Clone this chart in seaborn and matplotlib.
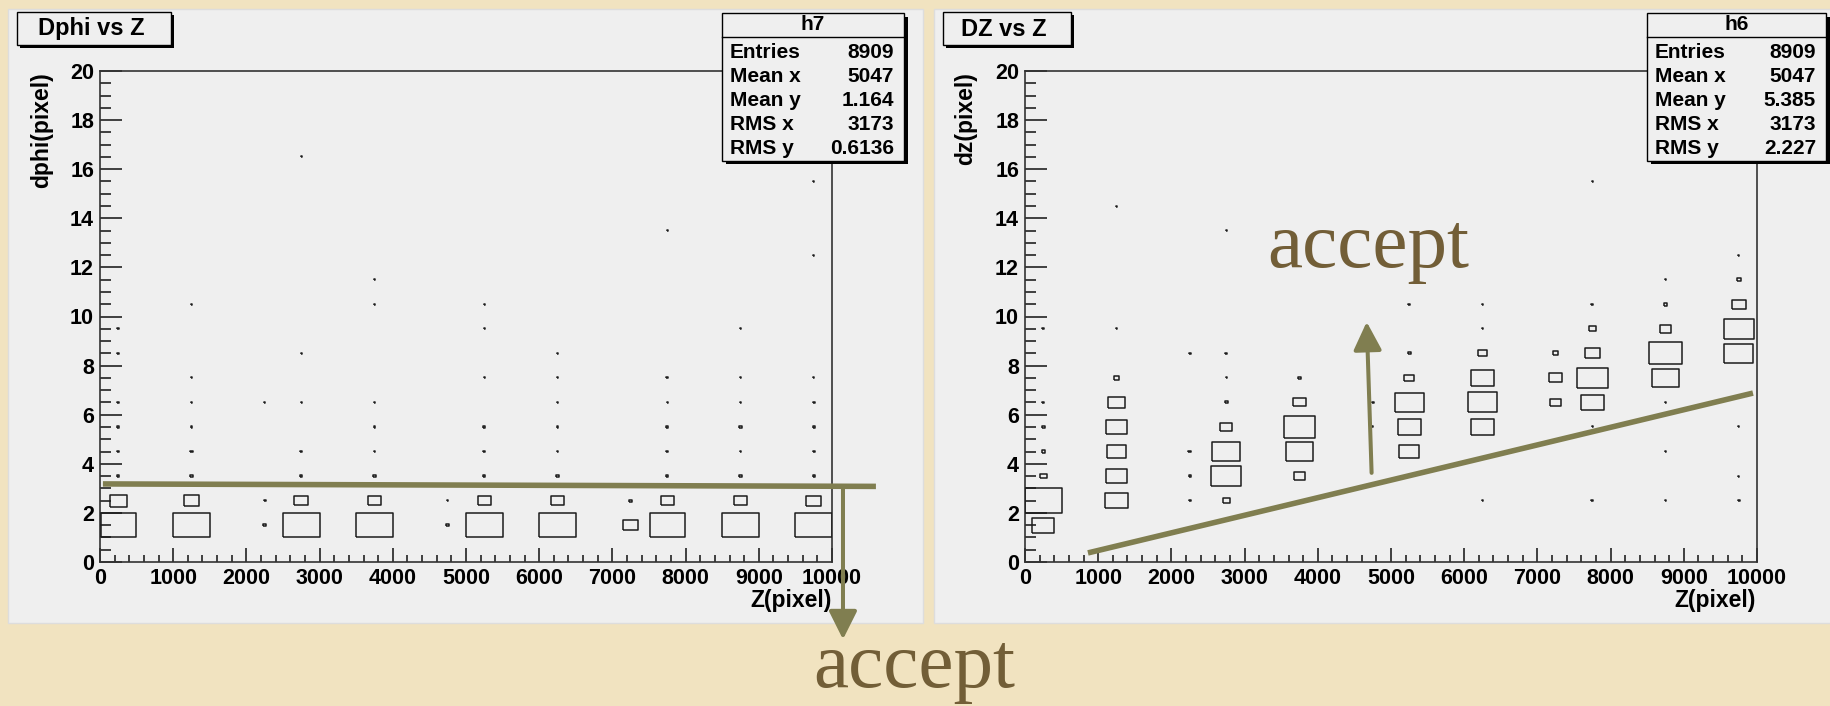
import numpy as np
import pandas as pd
import matplotlib
matplotlib.use('Agg')
import matplotlib.pyplot as plt
import seaborn as sns
from matplotlib.patches import Rectangle
from matplotlib.ticker import MultipleLocator

FIG_W, FIG_H = 1831, 706
BEIGE = '#f1e3c0'
CANVAS = '#efefef'
INK = '#1c1c1c'
GREEN = '#807e50'
BROWN = '#725e37'

Z_MAX, D_MAX = 10000, 20
Z_BIN, D_BIN = 500, 1

# TH2 box plots: (z bin centre, d bin centre, box side relative to the fullest bin)
DPHI_CELLS = [
    (250, 9.5, .04), (250, 8.5, .04), (250, 6.5, .04), (250, 5.5, .04), (250, 4.5, .04), (250, 3.5, .05), (250, 2.5, .48), (250, 1.5, .97),
    (1250, 10.5, .04), (1250, 7.5, .04), (1250, 6.5, .03), (1250, 5.5, .04), (1250, 4.5, .05), (1250, 3.5, .05), (1250, 2.5, .42), (1250, 1.5, 1.0),
    (2250, 6.5, .03), (2250, 2.5, .04), (2250, 1.5, .07),
    (2750, 16.5, .03), (2750, 8.5, .03), (2750, 6.5, .03), (2750, 4.5, .04), (2750, 3.5, .04), (2750, 2.5, .38), (2750, 1.5, 1.0),
    (3750, 11.5, .03), (3750, 10.5, .04), (3750, 6.5, .03), (3750, 5.5, .04), (3750, 4.5, .04), (3750, 3.5, .05), (3750, 2.5, .36), (3750, 1.5, 1.0),
    (4750, 2.5, .03), (4750, 1.5, .07),
    (5250, 10.5, .03), (5250, 9.5, .03), (5250, 7.5, .03), (5250, 5.5, .04), (5250, 4.5, .04), (5250, 3.5, .05), (5250, 2.5, .34), (5250, 1.5, 1.0),
    (6250, 8.5, .03), (6250, 7.5, .03), (6250, 6.5, .03), (6250, 5.5, .04), (6250, 4.5, .04), (6250, 3.5, .06), (6250, 2.5, .35), (6250, 1.5, 1.0),
    (7250, 2.5, .07), (7250, 1.5, .40),
    (7750, 13.5, .03), (7750, 7.5, .04), (7750, 6.5, .03), (7750, 5.5, .04), (7750, 4.5, .04), (7750, 3.5, .05), (7750, 2.5, .34), (7750, 1.5, .96),
    (8750, 9.5, .03), (8750, 7.5, .03), (8750, 6.5, .03), (8750, 5.5, .06), (8750, 4.5, .03), (8750, 3.5, .05), (8750, 2.5, .37), (8750, 1.5, 1.0),
    (9750, 15.5, .03), (9750, 12.5, .03), (9750, 7.5, .03), (9750, 6.5, .04), (9750, 5.5, .04), (9750, 4.5, .04), (9750, 3.5, .05), (9750, 2.5, .40), (9750, 1.5, 1.0),
]

DZ_CELLS = [
    (250, 9.5, .04), (250, 6.5, .04), (250, 5.5, .07), (250, 4.5, .08), (250, 3.5, .18), (250, 2.5, 1.0), (250, 1.5, .60),
    (1250, 14.5, .03), (1250, 9.5, .03), (1250, 7.5, .15), (1250, 6.5, .45), (1250, 5.5, .55), (1250, 4.5, .51), (1250, 3.5, .56), (1250, 2.5, .64),
    (2250, 8.5, .04), (2250, 4.5, .07), (2250, 3.5, .05), (2250, 2.5, .04),
    (2750, 13.5, .03), (2750, 8.5, .04), (2750, 7.5, .03), (2750, 6.5, .08), (2750, 5.5, .33), (2750, 4.5, .77), (2750, 3.5, .82), (2750, 2.5, .20),
    (3750, 7.5, .10), (3750, 6.5, .33), (3750, 5.5, .86), (3750, 4.5, .76), (3750, 3.5, .29),
    (4750, 6.5, .04), (4750, 5.5, .03),
    (5250, 10.5, .04), (5250, 8.5, .08), (5250, 7.5, .27), (5250, 6.5, .78), (5250, 5.5, .63), (5250, 4.5, .55),
    (6250, 10.5, .04), (6250, 9.5, .04), (6250, 8.5, .25), (6250, 7.5, .64), (6250, 6.5, .81), (6250, 5.5, .63), (6250, 2.5, .04),
    (7250, 8.5, .15), (7250, 7.5, .37), (7250, 6.5, .30),
    (7750, 15.5, .03), (7750, 10.5, .04), (7750, 9.5, .19), (7750, 8.5, .41), (7750, 7.5, .84), (7750, 6.5, .64), (7750, 5.5, .03), (7750, 2.5, .04),
    (8750, 11.5, .04), (8750, 10.5, .10), (8750, 9.5, .32), (8750, 8.5, .91), (8750, 7.5, .75), (8750, 6.5, .04), (8750, 4.5, .03), (8750, 2.5, .04),
    (9750, 12.5, .03), (9750, 11.5, .10), (9750, 10.5, .38), (9750, 9.5, .82), (9750, 8.5, .80), (9750, 5.5, .03), (9750, 3.5, .03), (9750, 2.5, .04),
]

H7_STATS = [('Entries', '8909'), ('Mean x', '5047'), ('Mean y', '1.164'), ('RMS x', '3173'), ('RMS y', '0.6136')]
H6_STATS = [('Entries', '8909'), ('Mean x', '5047'), ('Mean y', '5.385'), ('RMS x', '3173'), ('RMS y', '2.227')]

# hand-drawn cut lines of the slide, in data units of each panel
DPHI_CUT = ([40, 10600], [3.18, 3.08])
DPHI_ARROW = ((10150, 3.08), (10150, -3.15))
DZ_CUT = ([860, 9945], [0.37, 6.88])
DZ_ARROW = ((4735, 3.63), (4668, 9.78))

plt.rcParams['font.family'] = ['Liberation Sans', 'DejaVu Sans']
plt.rcParams['font.weight'] = 'bold'

fig = plt.figure(figsize=(FIG_W / 100, FIG_H / 100), dpi=100, facecolor=BEIGE)


def fx(x):
    return x / FIG_W


def fy(y):
    return 1 - y / FIG_H


def fig_rect(x0, y0, x1, y1, **kw):
    r = Rectangle((fx(x0), fy(y1)), (x1 - x0) / FIG_W, (y1 - y0) / FIG_H, transform=fig.transFigure, **kw)
    fig.add_artist(r)
    return r


def draw_panel(ax, cells, ax_w_px, ax_h_px):
    df = pd.DataFrame(cells, columns=['z', 'd', 'w'])
    df['area'] = df['w'] ** 2
    bin_w_px = Z_BIN / Z_MAX * ax_w_px
    bin_h_px = D_BIN / D_MAX * ax_h_px
    a = bin_w_px / bin_h_px
    box = [(-a, -1), (a, -1), (a, 1), (-a, 1), (-a, -1)]
    s_full = (bin_w_px * 72 / 100) ** 2
    sns.scatterplot(data=df, x='z', y='d', size='area', sizes=(0.6, s_full), size_norm=(0, 1),
                    marker=box, color=INK, facecolor='none', edgecolor=INK, linewidth=1.1,
                    legend=False, ax=ax, zorder=3)
    ax.set_xlim(0, Z_MAX)
    ax.set_ylim(0, D_MAX)
    ax.set_xlabel('')
    ax.set_ylabel('')
    ax.set_facecolor(CANVAS)
    ax.xaxis.set_major_locator(MultipleLocator(1000))
    ax.xaxis.set_minor_locator(MultipleLocator(200))
    ax.yaxis.set_major_locator(MultipleLocator(2))
    ax.yaxis.set_minor_locator(MultipleLocator(0.5))
    ax.tick_params(axis='both', which='both', direction='in', colors='#222222', width=1.2,
                   top=False, right=False, labelsize=15.5, pad=4.3)
    ax.tick_params(axis='y', which='major', length=15.6)
    ax.tick_params(axis='y', which='minor', length=7.9)
    ax.tick_params(axis='x', which='major', length=10.3)
    ax.tick_params(axis='x', which='minor', length=4.8)
    for sp in ax.spines.values():
        sp.set_color('#333333')
        sp.set_linewidth(1.2)
    for lab in ax.get_xticklabels() + ax.get_yticklabels():
        lab.set_fontweight('bold')
        lab.set_color('black')


def stats_box(name, rows, x0, x1):
    y0, y1 = 13, 161
    fig_rect(x0 + 4, y0 + 4, x1 + 4, y1 + 3, facecolor='black', edgecolor='none', zorder=5)
    fig_rect(x0, y0, x1, y1, facecolor=CANVAS, edgecolor='black', linewidth=1.0, zorder=6)
    fig.add_artist(plt.Line2D([fx(x0), fx(x1)], [fy(37), fy(37)], transform=fig.transFigure,
                              color='black', linewidth=1.0, zorder=7))
    fig.text(fx((x0 + x1) / 2), fy(25), name, ha='center', va='center', fontsize=15, zorder=7)
    for i, (k, v) in enumerate(rows):
        yy = 52 + 24 * i
        fig.text(fx(x0 + 8), fy(yy), k, ha='left', va='center', fontsize=15, zorder=7)
        fig.text(fx(x1 - 10), fy(yy), v, ha='right', va='center', fontsize=15, zorder=7)


def title_box(text, x0, x1):
    y0, y1 = 12, 45
    fig_rect(x0 + 3, y0 + 3, x1 + 3, y1 + 3, facecolor='black', edgecolor='none', zorder=5)
    fig_rect(x0, y0, x1, y1, facecolor=CANVAS, edgecolor='black', linewidth=1.0, zorder=6)
    fig.text(fx((x0 + x1) / 2 - 3), fy(29), text, ha='center', va='center', fontsize=17, zorder=7)


def overlay(ax, cut, arrow):
    ax.plot(cut[0], cut[1], color=GREEN, linewidth=4.0, solid_capstyle='butt', clip_on=False, zorder=10)
    ax.annotate('', xy=arrow[1], xytext=arrow[0], annotation_clip=False, zorder=10,
                arrowprops=dict(arrowstyle='-|>,head_length=0.72,head_width=0.36', mutation_scale=24,
                                color=GREEN, linewidth=2.9, shrinkA=0, shrinkB=0))


# canvases
fig_rect(8, 9, 923, 623, facecolor=CANVAS, edgecolor='#dddddd', linewidth=1, zorder=-5)
fig_rect(934, 9, 1831, 623, facecolor=CANVAS, edgecolor='#dddddd', linewidth=1, zorder=-5)

ax_l = fig.add_axes([fx(100), fy(562), 732 / FIG_W, 491 / FIG_H])
ax_r = fig.add_axes([fx(1025), fy(562), 732 / FIG_W, 491 / FIG_H])
draw_panel(ax_l, DPHI_CELLS, 732, 491)
draw_panel(ax_r, DZ_CELLS, 732, 491)

fig.text(fx(42), fy(72), 'dphi(pixel)', rotation=90, ha='center', va='top', fontsize=16.5)
fig.text(fx(966), fy(72), 'dz(pixel)', rotation=90, ha='center', va='top', fontsize=16.5)
fig.text(fx(832), fy(601), 'Z(pixel)', ha='right', va='center', fontsize=16.5)
fig.text(fx(1756), fy(601), 'Z(pixel)', ha='right', va='center', fontsize=16.5)

title_box('Dphi vs Z', 17, 171)
title_box('DZ vs Z', 943, 1071)
stats_box('h7', H7_STATS, 722, 904)
stats_box('h6', H6_STATS, 1647, 1826)

overlay(ax_l, DPHI_CUT, DPHI_ARROW)
overlay(ax_r, DZ_CUT, DZ_ARROW)

fig.text(fx(813), fy(687), 'accept', ha='left', va='baseline', fontsize=57,
         family='Liberation Serif', fontweight='normal', color=BROWN, zorder=10)
fig.text(fx(1267), fy(267), 'accept', ha='left', va='baseline', fontsize=57,
         family='Liberation Serif', fontweight='normal', color=BROWN, zorder=10)

fig.savefig('out.png', dpi=100, facecolor=BEIGE)
